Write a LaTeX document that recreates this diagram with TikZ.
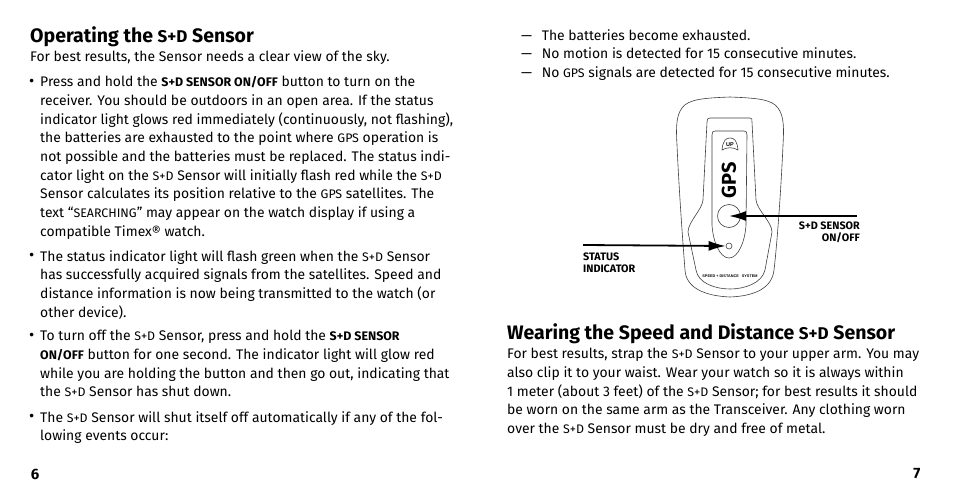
\documentclass[tikz,border=0pt]{standalone}
\usepackage{fontspec}
\setmainfont{Fira Sans}
\usetikzlibrary{arrows.meta, positioning}
\newfontfamily\labelfont{Liberation Sans}
\newcommand{\smc}[1]{{\fontsize{12.4}{18.7}\selectfont #1}}
\newcommand{\sdname}{\smc{S+D}}
\tikzset{
	para/.style={anchor=north west, inner sep=0pt, align=left, font=\fontsize{13.9}{18.7}\selectfont},
	dot/.style={anchor=north west, inner sep=0pt, font=\fontsize{16}{18.7}\selectfont},
	head/.style={anchor=west, inner sep=0pt, font=\fontsize{19.5}{22}\selectfont\bfseries},
	pagenum/.style={inner sep=0pt, font=\fontsize{15}{18}\selectfont\bfseries},
	callout/.style={line width=1.8pt, -{Latex[length=17pt,width=10pt]}},
	tag/.style={inner sep=0pt, align=left, font=\fontsize{10.8}{12}\selectfont\bfseries},
	outline/.style={line width=0.6pt, black!75},
}
\begin{document}
\begin{tikzpicture}[x=1pt, y=-1pt]
	\useasboundingbox[fill=white] (0,0) rectangle (954,495);

	% left page
	\node[head] (headone) at (30,37) {Operating the \smc{\fontsize{17}{22}\selectfont S+D} Sensor};
	\node[para] (intro) at (30,50) {For best results, the Sensor needs a clear view of the sky.};
	\node[dot] (bulleta) at (29,79) {•};
	\node[para] (parta) at (40,76) {Press and hold the \textbf{\smc{S+D SENSOR ON/OFF}} button to turn on the\\
		receiver. You should be outdoors in an open area. If the status\\
		indicator light glows red immediately (continuously, not flashing),\\
		the batteries are exhausted to the point where \smc{GPS} operation is\\
		not possible and the batteries must be replaced. The status indi-\\
		cator light on the \sdname{} Sensor will initially flash red while the \sdname\\
		Sensor calculates its position relative to the \smc{GPS} satellites. The\\
		text “\smc{SEARCHING}” may appear on the watch display if using a\\
		compatible Timex® watch.};
	\node[dot] (bulletb) at (29,253) {•};
	\node[para] (partb) at (40,250) {The status indicator light will flash green when the \sdname{} Sensor\\
		has successfully acquired signals from the satellites. Speed and\\
		distance information is now being transmitted to the watch (or\\
		other device).};
	\node[dot] (bulletc) at (29,333) {•};
	\node[para] (partc) at (40,330) {To turn off the \sdname{} Sensor, press and hold the \textbf{\smc{S+D SENSOR}}\\
		\textbf{\smc{ON/OFF}} button for one second. The indicator light will glow red\\
		while you are holding the button and then go out, indicating that\\
		the \sdname{} Sensor has shut down.};
	\node[dot] (bulletd) at (29,414) {•};
	\node[para] (partd) at (40,411) {The \sdname{} Sensor will shut itself off automatically if any of the fol-\\
		lowing events occur:};
	\node[pagenum] (pagesix) at (35,474) {6};

	% right page
	\node[para] (events) at (521,29) {—\hspace{6pt} The batteries become exhausted.\\
		—\hspace{6pt} No motion is detected for 15 consecutive minutes.\\
		—\hspace{6pt} No \smc{GPS} signals are detected for 15 consecutive minutes.};
	\node[head] (headtwo) at (507,334) {Wearing the Speed and Distance \smc{\fontsize{17}{22}\selectfont S+D} Sensor};
	\node[para] (wearing) at (507,348) {For best results, strap the \sdname{} Sensor to your upper arm. You may\\
		also clip it to your waist. Wear your watch so it is always within\\
		1 meter (about 3 feet) of the \sdname{} Sensor; for best results it should\\
		be worn on the same arm as the Transceiver. Any clothing worn\\
		over the \sdname{} Sensor must be dry and free of metal.};
	\node[pagenum] (pageseven) at (917,474) {7};

	% sensor body
	\draw[outline] (730,97) .. controls (705,98) and (688,99) .. (682,108)
		.. controls (676,116) and (676,128) .. (677,145)
		.. controls (679,190) and (683,245) .. (685,270)
		.. controls (686,288) and (705,296) .. (730,297)
		.. controls (755,296) and (772,288) .. (774,270)
		.. controls (777,245) and (781,190) .. (783,145)
		.. controls (784,128) and (784,116) .. (778,108)
		.. controls (772,99) and (755,98) .. (730,97) -- cycle;
	\draw[outline] (710,118) -- (750,118) .. controls (752,118) and (752,119) .. (752,122)
		-- (756,200) .. controls (757,210) and (772,222) .. (772,232)
		-- (765,270) .. controls (762,283) and (745,289) .. (730,289)
		.. controls (715,289) and (698,283) .. (696,270)
		-- (688,232) .. controls (688,222) and (702,210) .. (703,200)
		-- (707,122) .. controls (707,119) and (708,118) .. (710,118) -- cycle;
	\draw[outline] (715,131) -- (744,131) .. controls (746,131) and (747,132) .. (747,135)
		-- (746,225) .. controls (745,242) and (738,258) .. (729,258)
		.. controls (720,258) and (713,242) .. (712,225)
		-- (712,135) .. controls (712,132) and (713,131) .. (715,131) -- cycle;
	\draw[outline] (722,150) .. controls (723,140) and (726,138) .. (730,138)
		.. controls (734,138) and (737,140) .. (738,150)
		.. controls (733,147) and (727,147) .. (722,150) -- cycle;
	\node[inner sep=0pt, font=\fontsize{5.5}{6}\selectfont\labelfont\bfseries] (uptag) at (730,145) {UP};
	\node[inner sep=0pt, rotate=90, font=\fontsize{20}{22}\selectfont\bfseries] (gpstag) at (729,180) {GPS};
	\node[outline, draw, circle, minimum size=23pt, inner sep=0pt] (button) at (729,216) {};
	\node[outline, draw, circle, minimum size=6pt, inner sep=0pt] (led) at (729,246) {};
	\node[inner sep=0pt, font=\fontsize{3.8}{4}\selectfont\labelfont\bfseries] (brandtag) at (730,276) {SPEED + DISTANCE \hspace{1pt} SYSTEM};

	% callouts
	\coordinate (sensorend) at (857,216);
	\coordinate (statusend) at (583,245);
	\draw[callout] (sensorend) -- (button.center);
	\draw[callout] (statusend) -- (led.west);
	\node[tag, anchor=north east, align=right] (sensortag) at (860,222) {S+D SENSOR\\ON/OFF};
	\node[tag, anchor=north west] (statustag) at (583,253) {STATUS\\INDICATOR};
\end{tikzpicture}
\end{document}
